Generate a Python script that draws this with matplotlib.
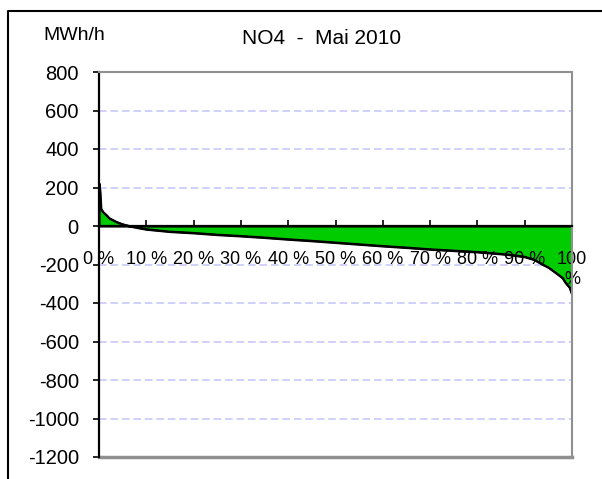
import matplotlib.pyplot as plt
from matplotlib.lines import Line2D

plt.rcParams['font.family'] = ['Liberation Sans', 'DejaVu Sans']

# duration curve, NO4 May 2010 (percent of hours, MWh/h)
pct = [0, 0.2, 0.4, 0.8, 1.5, 2.2, 3.0, 3.6, 5.0, 6.4, 8.0, 10, 15, 20, 25,
       30, 35, 40, 45, 50, 55, 60, 65, 70, 75, 80, 85, 87, 90, 92, 93.7,
       95, 96.5, 98, 98.6, 99.5, 100]
mwh = [222, 180, 90, 74, 58, 40, 30, 22, 9, 0, -8, -17, -29, -36, -45,
       -52, -60, -69, -77, -86, -95, -104, -112, -121, -128, -135, -145,
       -150, -160, -175, -199, -215, -242, -270, -294, -320, -355]

x_ticks = [0, 10, 20, 30, 40, 50, 60, 70, 80, 90, 100]
x_labels = ['0 %', '10 %', '20 %', '30 %', '40 %', '50 %', '60 %', '70 %',
            '80 %', '90 %', '100\n%']
y_ticks = [800, 600, 400, 200, 0, -200, -400, -600, -800, -1000, -1200]

W, H = 602, 479
fig = plt.figure(figsize=(W / 100, H / 100), dpi=100)
ax = fig.add_axes([99 / W, (H - 457) / H, (572 - 99) / W, (457 - 72) / H])

ax.fill_between(pct, mwh, 0, facecolor='#00cc00', edgecolor='black', lw=1.5)
ax.plot(pct, mwh, color='black', lw=1.5)

ax.set_xlim(0, 100)
ax.set_ylim(-1200, 800)
ax.set_yticks(y_ticks)
ax.set_yticklabels([str(v) for v in y_ticks])
ax.set_xticks(x_ticks)
ax.set_xticklabels(x_labels, linespacing=1.15)

# gridlines (dashed lavender), not at borders
for v in y_ticks:
    if v not in (800, 0, -1200):
        ax.axhline(v, color='#c4c4fa', lw=1.1, dashes=(5, 2.5), zorder=0)

ax.spines['bottom'].set_position(('data', 0))
ax.spines['bottom'].set_color('black')
ax.spines['bottom'].set_linewidth(1.6)
ax.spines['left'].set_color('black')
ax.spines['left'].set_linewidth(1.6)
for s in ('top', 'right'):
    ax.spines[s].set_color('#909090')
    ax.spines[s].set_linewidth(1.5)
ax.axhline(-1200, color='#909090', lw=2.5, clip_on=False)

ax.tick_params(axis='y', direction='out', length=4.5, width=1.2, pad=10,
               labelsize=14.5)
ax.tick_params(axis='x', direction='in', length=4, width=1.2, pad=18,
               labelsize=13)

fig.text(322 / W, 1 - 38 / H, 'NO4  -  Mai 2010', fontsize=15,
         ha='center', va='center')
fig.text(43 / W, 1 - 35 / H, 'MWh/h', fontsize=14, ha='left', va='center')

# outer chart frame (only top and left edges visible)
fig.add_artist(Line2D([7.5 / W, 7.5 / W, 1.0], [0.0, 1 - 10.5 / H, 1 - 10.5 / H],
                      transform=fig.transFigure, color='black', lw=1.5))

fig.savefig('out.png', dpi=100)
